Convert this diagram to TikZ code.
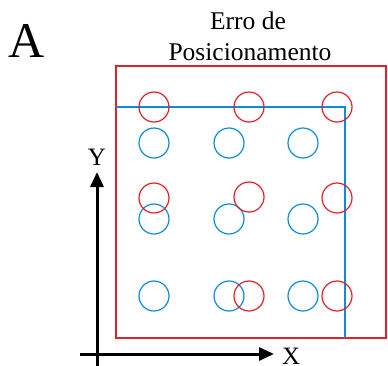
\documentclass[tikz,border=0pt]{standalone}
\usepackage{fontspec}
\setmainfont{Liberation Serif}
\usetikzlibrary{arrows.meta,positioning}
\definecolor{errred}{RGB}{222,34,40}
\definecolor{errblue}{RGB}{10,140,215}

\begin{document}
\begin{tikzpicture}[
  x=1pt, y=-1pt,
  every node/.style={inner sep=0pt},
  hole/.style={circle, draw, line width=1.2pt, minimum size=30pt},
  axis/.style={line width=3pt, -{Triangle[length=15pt,width=13pt]}},
  title/.style={font=\fontsize{25.5}{30}\selectfont, anchor=base},
  >=Latex
]

\path[use as bounding box] (0,0) rectangle (388,365);

% Panel letter and title.
\node[font=\fontsize{50}{50}\selectfont, anchor=base] (panel) at (27,57) {A};
\node[title] (title1) at (248,29) {Erro de};
\node[title] (title2) at (250,60) {Posicionamento};

% Frames: measured (red) and nominal (blue).
\draw[errred, line width=1.2pt] (116,66) rectangle (386,338);
\draw[errblue, line width=1.2pt] (116,107) -- (345,107) -- (345,338);

% Nominal hole positions.
\foreach \hx in {154,229,303} {
  \foreach \hy in {143,219,296} {
    \node[hole, errblue] (b-\hx-\hy) at (\hx,\hy) {};
  }
}

% Measured hole positions.
\foreach \hx/\hy in {154/107, 249/107, 337/107,
                     154/198, 249/197, 337/198,
                     249/296, 337/296} {
  \node[hole, errred] (r-\hx-\hy) at (\hx,\hy) {};
}

% Axes.
\coordinate (origin-y) at (97,366);
\coordinate (origin-x) at (80,354);
\coordinate (tip-y) at (97,172);
\coordinate (tip-x) at (274,354);
\node[font=\fontsize{25}{25}\selectfont, anchor=base] (ylab) at (97,165) {Y};
\node[font=\fontsize{25}{25}\selectfont, anchor=base west] (xlab) at (282,364) {X};
\draw[axis] (origin-y) -- (tip-y);
\draw[axis] (origin-x) -- (tip-x);

\end{tikzpicture}
\end{document}
